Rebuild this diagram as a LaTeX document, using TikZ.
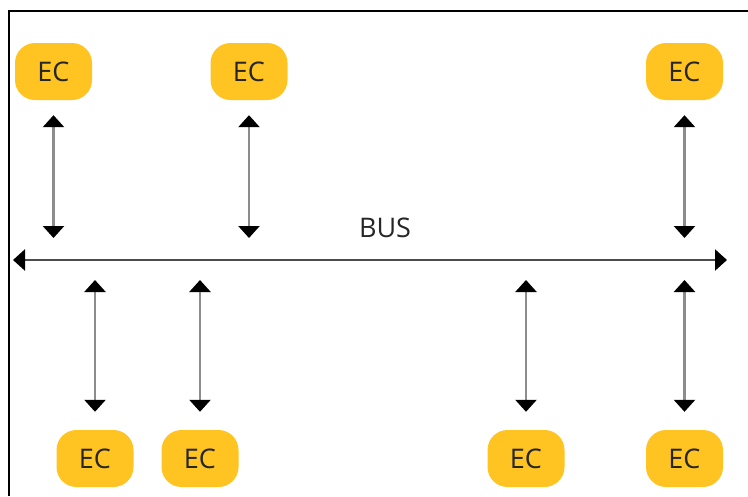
\documentclass[tikz,border=0pt]{standalone}
\usepackage{fontspec}
\setmainfont{Open Sans}
\usetikzlibrary{arrows.meta}
\definecolor{ecyellow}{HTML}{FFC322}
\definecolor{linegray}{HTML}{8C8C8C}

\begin{document}
\begin{tikzpicture}[x=1pt, y=-1pt,
    ecbox/.style={fill=ecyellow, rounded corners=20pt, minimum width=77pt, minimum height=57pt,
        text=black!85, font=\fontsize{27}{32}\selectfont},
    link/.style={draw=linegray, line width=2.5pt,
        {Triangle[width=21pt,length=12pt,color=black]}-{Triangle[width=21pt,length=12pt,color=black]}}]
    \useasboundingbox (0,0) rectangle (748,496);
    \draw[line width=1.5pt] (9,496) -- (9,11) -- (748,11);

    \node (ec1) [ecbox] at (53.5,71.5) {EC};
    \node (ec2) [ecbox] at (249,71.5) {EC};
    \node (ec3) [ecbox] at (684.5,71.5) {EC};
    \node (ec4) [ecbox] at (95,458.5) {EC};
    \node (ec5) [ecbox] at (200,458.5) {EC};
    \node (ec6) [ecbox] at (526,458.5) {EC};
    \node (ec7) [ecbox] at (684.5,458.5) {EC};

    \coordinate (busl) at (13,260);
    \coordinate (busr) at (727,260);
    \draw[link, draw=black!70] (busl) -- (busr);
    \node (bus) [font=\fontsize{27}{32}\selectfont, text=black!85] at (385,228) {BUS};

    \foreach \ec in {ec1, ec2, ec3}
        \draw[link, shorten <=15pt, shorten >=22pt] (\ec.south) -- (\ec.south |- busl);
    \foreach \ec in {ec4, ec5, ec6, ec7}
        \draw[link, shorten <=18pt, shorten >=20pt] (\ec.north) -- (\ec.north |- busl);
\end{tikzpicture}
\end{document}
